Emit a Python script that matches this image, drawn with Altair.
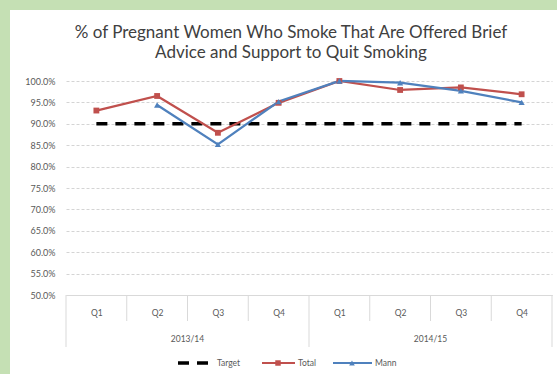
import altair as alt
import pandas as pd

# ---- data -------------------------------------------------------------
title_lines = ["% of Pregnant Women Who Smoke That Are Offered Brief",
               "Advice and Support to Quit Smoking"]
quarters = ["Q1", "Q2", "Q3", "Q4", "Q1", "Q2", "Q3", "Q4"]
years = ["2013/14", "2014/15"]
total = [0.931, 0.965, 0.879, 0.949, 1.000, 0.979, 0.985, 0.969]
mann = [None, 0.944, 0.852, 0.952, 1.000, 0.996, 0.977, 0.950]
target = [0.90] * 8
y_ticks = [0.50, 0.55, 0.60, 0.65, 0.70, 0.75, 0.80, 0.85, 0.90, 0.95, 1.00]

# ---- layout / style ---------------------------------------------------
W, H = 486, 214
PAD_L, PAD_T = 66, 81
FONT = "Lato"
GREY = "#595959"
RED = "#C0504D"
BLUE = "#4F81BD"
GREEN = "#C5E0B4"

idx = list(range(len(quarters)))
df = pd.DataFrame({"i": idx, "quarter": quarters, "total": total,
                   "mann": mann, "target": target})
one = df.head(1)

xscale = alt.Scale(domain=[-0.5, 7.5], nice=False, zero=False)
yscale = alt.Scale(domain=[0.5, 1.0], nice=False, zero=False)

label_js = "[" + ",".join(f"'{q}'" for q in quarters) + "][datum.value]"

x_axis = alt.Axis(values=idx, labelExpr=label_js, title=None, ticks=False,
                  domain=True, domainColor="#D9D9D9", grid=False,
                  labelFont=FONT, labelFontSize=8.5, labelColor=GREY,
                  labelPadding=13, labelOverlap=False)
y_axis = alt.Axis(values=y_ticks, format=".1%", title=None, ticks=False,
                  domain=False, grid=True, gridColor="#D4D4D4",
                  gridDash=[3, 2], gridWidth=1, labelFont=FONT,
                  labelFontSize=9, labelColor=GREY, labelPadding=11,
                  labelOverlap=False, tickCount=11)


def xy(xfield, yfield):
    return dict(x=alt.X(xfield, scale=xscale, axis=x_axis),
                y=alt.Y(yfield, scale=yscale, axis=y_axis, title=None))


base = alt.Chart(df)

target_line = base.mark_line(color="black", strokeWidth=3.5,
                             strokeDash=[11, 8]).encode(
    **xy("i:Q", "target:Q"))

total_line = base.mark_line(color=RED, strokeWidth=2.25).encode(
    **xy("i:Q", "total:Q"))
total_pts = base.mark_point(shape="square", filled=True, color=RED,
                            size=34, opacity=1).encode(**xy("i:Q", "total:Q"))

mann_df = df.dropna(subset=["mann"])
mann_line = alt.Chart(mann_df).mark_line(color=BLUE, strokeWidth=2.25).encode(
    **xy("i:Q", "mann:Q"))
mann_pts = alt.Chart(mann_df).mark_point(shape="triangle-up", filled=True,
                                         color=BLUE, size=38,
                                         opacity=1).encode(
    **xy("i:Q", "mann:Q"))

# category dividers under the axis: short between quarters, long at year edges
short_div = pd.DataFrame({"p": [0.5, 1.5, 2.5, 4.5, 5.5, 6.5]})
long_div = pd.DataFrame({"p": [-0.5, 3.5, 7.5]})
div_style = dict(color="#D9D9D9", strokeWidth=1)
short_rules = alt.Chart(short_div).mark_rule(**div_style).encode(
    x=alt.X("p:Q", scale=xscale, axis=x_axis),
    y=alt.value(H), y2=alt.value(H + 26))
long_rules = alt.Chart(long_div).mark_rule(**div_style).encode(
    x=alt.X("p:Q", scale=xscale, axis=x_axis),
    y=alt.value(H), y2=alt.value(H + 52))

year_df = pd.DataFrame({"year": years, "c": [1.5, 5.5]})
year_text = alt.Chart(year_df).mark_text(font=FONT, fontSize=8.5,
                                         color=GREY).encode(
    x=alt.X("c:Q", scale=xscale, axis=x_axis), y=alt.value(H + 44),
    text="year:N")

# chart title (two centred lines above the plot)
title_text = alt.Chart(one).mark_text(
    text=title_lines, font=FONT, fontSize=17, color="#404040",
    align="center", baseline="alphabetic", lineHeight=20).encode(
    x=alt.value(225), y=alt.value(-43))

# legend
LY = 282
leg = []
leg.append(alt.Chart(one).mark_rule(color="black", strokeWidth=3.5,
                                    strokeDash=[11, 8]).encode(
    x=alt.value(112), x2=alt.value(148), y=alt.value(LY)))
leg.append(alt.Chart(one).mark_rule(color=RED, strokeWidth=2).encode(
    x=alt.value(196), x2=alt.value(229), y=alt.value(LY)))
leg.append(alt.Chart(one).mark_point(shape="square", filled=True,
                                     color=RED, size=30, opacity=1).encode(
    x=alt.value(212), y=alt.value(LY)))
leg.append(alt.Chart(one).mark_rule(color=BLUE, strokeWidth=2).encode(
    x=alt.value(267), x2=alt.value(306), y=alt.value(LY)))
leg.append(alt.Chart(one).mark_point(shape="triangle-up", filled=True,
                                     color=BLUE, size=32, opacity=1).encode(
    x=alt.value(286), y=alt.value(LY)))
legend_labels = pd.DataFrame({"name": ["Target", "Total", "Mann"],
                              "lx": [151, 232, 309]})
for _, r in legend_labels.iterrows():
    leg.append(alt.Chart(one).mark_text(
        text=r["name"], font=FONT, fontSize=8.5, color=GREY, align="left",
        baseline="middle").encode(x=alt.value(int(r["lx"])), y=alt.value(LY)))

# green frame strips on the left and top edges
frame_left = alt.Chart(one).mark_rect(color=GREEN).encode(
    x=alt.value(-PAD_L), x2=alt.value(-PAD_L + 10),
    y=alt.value(-PAD_T), y2=alt.value(374 - PAD_T))
frame_top = alt.Chart(one).mark_rect(color=GREEN).encode(
    x=alt.value(-PAD_L), x2=alt.value(557 - PAD_L),
    y=alt.value(-PAD_T), y2=alt.value(-PAD_T + 10))

chart = alt.layer(
    frame_left, frame_top, title_text,
    short_rules, long_rules, year_text,
    target_line, total_line, mann_line, total_pts, mann_pts,
    *leg,
).properties(
    width=W, height=H,
    autosize=alt.AutoSizeParams(type="none"),
    padding={"left": PAD_L, "top": PAD_T, "right": 557 - PAD_L - W,
             "bottom": 374 - PAD_T - H},
    background="white",
).configure_view(stroke=None)

chart.save("out.html", embed_options={"renderer": "svg", "actions": False})
